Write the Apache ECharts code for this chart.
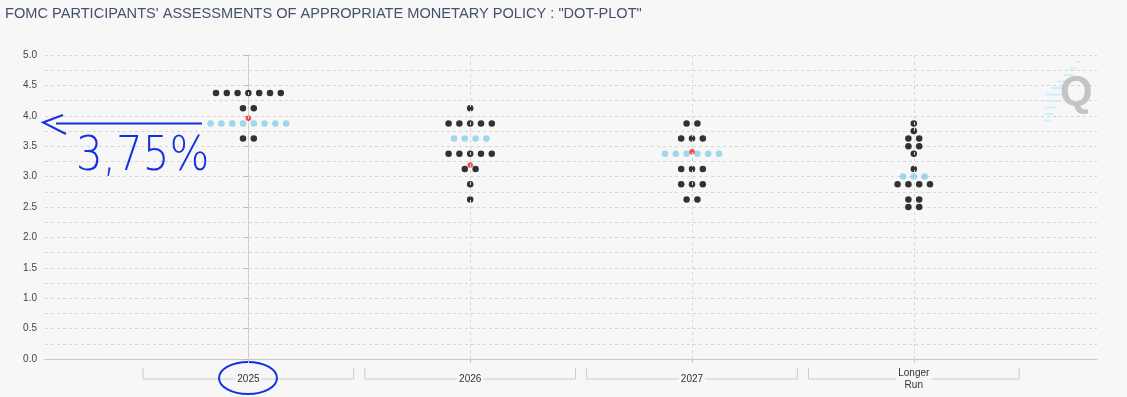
<!DOCTYPE html>
<html>
<head>
<meta charset="utf-8">
<script src="https://cdn.jsdelivr.net/npm/echarts@6/dist/echarts.min.js"></script>
<style>
  html, body { margin: 0; padding: 0; background: #f7f7f7; }
  #chart { width: 1127px; height: 397px; }
</style>
</head>
<body>
<div id="chart"></div>
<script>
// categories on the x axis
var categories = ['2025', '2026', '2027', 'Longer\nRun'];
// dot rows per horizon: [rate, number of participants]
var dots2025 = [[4.375, 7], [4.125, 2], [3.875, 8], [3.625, 2]];
var dots2026 = [[4.125, 1], [3.875, 5], [3.625, 4], [3.375, 5], [3.125, 2], [2.875, 1], [2.625, 1]];
var dots2027 = [[3.875, 2], [3.625, 3], [3.375, 6], [3.125, 3], [2.875, 3], [2.625, 2]];
var dotsLonger = [[3.875, 1], [3.75, 1], [3.625, 2], [3.5, 2], [3.375, 1], [3.125, 1], [3.0, 3], [2.875, 4], [2.625, 2], [2.5, 2]];
// red marker per horizon
var redDots = [3.96, 3.19, 3.41, null];

var allRows = [dots2025, dots2026, dots2027, dotsLonger];
var dotGap = 0.0487; // horizontal spacing of dots in one row (axis units)

var blackPts = [];
var bluePts = [];
allRows.forEach(function (rows, c) {
    // the row that holds the median participant is drawn in blue
    var total = 0;
    rows.forEach(function (r) { total += r[1]; });
    var mid = Math.ceil(total / 2);
    var seen = 0;
    rows.forEach(function (r) {
        var isMedian = seen < mid && seen + r[1] >= mid;
        seen += r[1];
        for (var k = 0; k < r[1]; k++) {
            var pt = [c + (k - (r[1] - 1) / 2) * dotGap, r[0]];
            (isMedian ? bluePts : blackPts).push(pt);
        }
    });
});
var redPts = [];
redDots.forEach(function (v, c) { if (v !== null) redPts.push([c, v]); });

var chart = echarts.init(document.getElementById('chart'));
var gridColor = '#d6d6d6';

chart.setOption({
    backgroundColor: '#f7f7f7',
    animation: false,
    title: {
        text: 'FOMC PARTICIPANTS\' ASSESSMENTS OF APPROPRIATE MONETARY POLICY : "DOT-PLOT"',
        left: 0,
        top: 1,
        textStyle: {
            fontFamily: 'Liberation Sans',
            fontSize: 14.6,
            fontWeight: 'normal',
            color: '#46506e'
        }
    },
    grid: { left: 45, right: 30, top: 55, bottom: 38 },
    xAxis: {
        type: 'value',
        min: -0.917,
        max: 3.826,
        axisLine: { show: true, lineStyle: { color: '#c8c8c8' } },
        axisTick: { show: true, customValues: [0, 1, 2, 3], length: 4, lineStyle: { color: '#c8c8c8' } },
        splitLine: { show: false },
        axisLabel: {
            customValues: [0, 1, 2, 3],
            formatter: function (v) { return categories[Math.round(v)]; },
            fontFamily: 'Liberation Sans',
            fontSize: 10,
            color: '#333',
            lineHeight: 12,
            verticalAlign: 'middle',
            margin: 20,
            backgroundColor: '#f7f7f7',
            padding: [0, 2]
        }
    },
    yAxis: {
        type: 'value',
        min: 0,
        max: 5,
        interval: 0.5,
        axisLine: { show: true, lineStyle: { color: '#c8c8c8' } },
        axisTick: { show: true, length: 5, lineStyle: { color: '#bbbbbb' } },
        axisLabel: {
            margin: 8,
            fontFamily: 'Liberation Sans',
            fontSize: 10,
            color: '#444',
            formatter: function (v) { return v.toFixed(1); }
        },
        splitLine: { show: true, lineStyle: { color: gridColor, type: [3, 3] } },
        minorTick: { show: false, splitNumber: 2 },
        minorSplitLine: { show: true, lineStyle: { color: gridColor, type: [3, 3] } }
    },
    series: [
        {
            name: 'participants',
            type: 'scatter',
            data: blackPts,
            symbolSize: 6.5,
            itemStyle: { color: '#000' },
            z: 3,
            markLine: {
                silent: true,
                symbol: 'none',
                label: { show: false },
                lineStyle: { color: gridColor, type: [3, 3], width: 1 },
                data: categories.map(function (c, i) { return { xAxis: i }; })
            }
        },
        {
            name: 'median row',
            type: 'scatter',
            data: bluePts,
            symbolSize: 6.5,
            itemStyle: { color: '#87cdea' },
            z: 3
        },
        {
            name: 'red',
            type: 'scatter',
            data: redPts,
            symbolSize: 5.5,
            itemStyle: { color: '#ff1a1a' },
            z: 4
        }
    ]
});

// brackets under the category labels, plus decorations
var g = [];
var half = 0.475;
categories.forEach(function (c, i) {
    var l = chart.convertToPixel({ xAxisIndex: 0, yAxisIndex: 0 }, [i - half, 0])[0];
    var r = chart.convertToPixel({ xAxisIndex: 0, yAxisIndex: 0 }, [i + half, 0])[0];
    g.push({
        type: 'polyline',
        z: 0,
        shape: { points: [[l, 368], [l, 379], [r, 379], [r, 368]] },
        style: { stroke: '#cccccc', lineWidth: 1, fill: null }
    });
});

// Q logo
for (var s = 0; s < 10; s++) {
    var yy = 62 + s * 6.5;
    var xr = 1080 - s * 3.3;
    var len = s < 5 ? 4 + s * 3 : 18 - (s - 5) * 3;
    g.push({ type: 'line', shape: { x1: xr - len, y1: yy, x2: xr, y2: yy }, style: { stroke: '#cdeefa', lineWidth: 2 } });
}
g.push({
    type: 'text', left: 1060, top: 72,
    style: { text: 'Q', fontFamily: 'Liberation Sans', fontWeight: 'bold', fontSize: 42, fill: '#c4c4c4' }
});

// hand-drawn annotation
var ink = '#1530e0';
g.push({ type: 'line', shape: { x1: 56, y1: 123.5, x2: 202, y2: 123.5 }, style: { stroke: ink, lineWidth: 2 } });
g.push({ type: 'polyline', shape: { points: [[63, 115], [43, 122.5], [66, 134]] }, style: { stroke: ink, lineWidth: 2, fill: null } });
g.push({
    type: 'text', left: 76, top: 133, scaleY: 1.15,
    style: { text: '3,75%', fontFamily: 'DejaVu Sans', fontWeight: 200, fontSize: 42, fill: ink }
});
g.push({ type: 'ellipse', shape: { cx: 248, cy: 378, rx: 29, ry: 16 }, style: { stroke: ink, lineWidth: 2, fill: null } });

chart.setOption({ graphic: g });
</script>
</body>
</html>
